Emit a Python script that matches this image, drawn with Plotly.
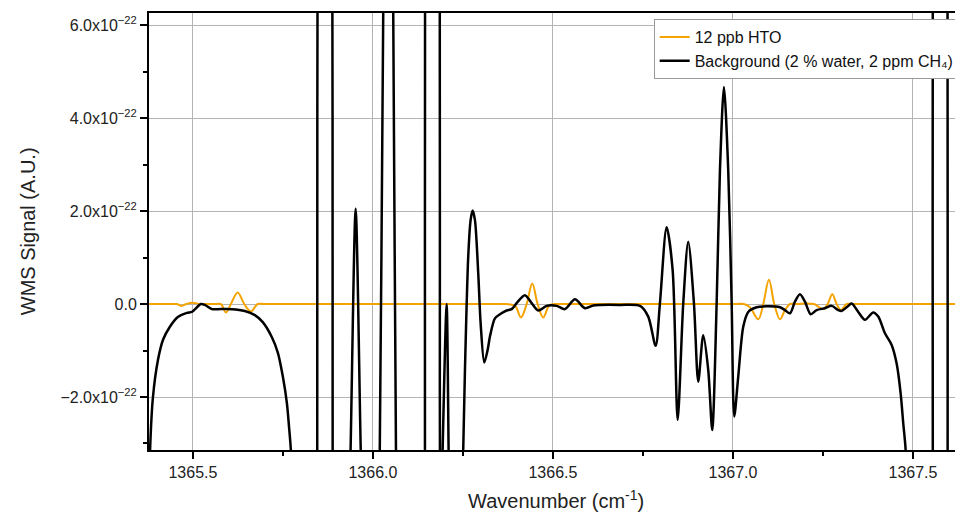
import plotly.graph_objects as go

SCALE = 1e-22  # signal values below are in units of 1e-22

# background (2 % water, 2 ppm CH4) - wavenumber / signal
bg_x = [1365.378, 1365.381, 1365.389, 1365.403, 1365.417, 1365.436, 1365.458, 1365.483,
        1365.497, 1365.506, 1365.522, 1365.533, 1365.553, 1365.569, 1365.608, 1365.644,
        1365.672, 1365.694, 1365.719, 1365.736, 1365.750, 1365.761, 1365.767, 1365.772,
        1365.780, 1365.810,
        1365.8445, 1365.8453, 1365.8462, 1365.866, 1365.8872, 1365.8881, 1365.8889,
        1365.910, 1365.928, 1365.938, 1365.952, 1365.966, 1365.976,
        1365.990, 1366.019, 1366.0286, 1366.042, 1366.0564, 1366.064, 1366.090,
        1366.120, 1366.1436, 1366.1444, 1366.1452, 1366.165, 1366.1852, 1366.186, 1366.1868,
        1366.1936, 1366.2047, 1366.2102, 1366.2135, 1366.232,
        1366.2508, 1366.2556, 1366.2647, 1366.2714, 1366.2769, 1366.2833, 1366.2925,
        1366.2992, 1366.3092, 1366.3186, 1366.325, 1366.3389, 1366.3528, 1366.3714,
        1366.3853, 1366.3992, 1366.4222, 1366.4408, 1366.4592, 1366.4825, 1366.5103,
        1366.5333, 1366.5611, 1366.5889, 1366.6119, 1366.6306, 1366.6861, 1366.7417,
        1366.7647, 1366.7853, 1366.7972, 1366.8158, 1366.8325, 1366.8464, 1366.8619,
        1366.8758, 1366.8917, 1366.9036, 1366.9175, 1366.9314, 1366.9425, 1366.9547,
        1366.9639, 1366.975, 1366.9869, 1366.9964, 1367.0036, 1367.0147, 1367.0286,
        1367.0425, 1367.0658, 1367.0936, 1367.1306, 1367.1444, 1367.1583, 1367.1722,
        1367.1861, 1367.2, 1367.2158, 1367.2325, 1367.2556, 1367.2742, 1367.2925,
        1367.3019, 1367.3175, 1367.3297, 1367.3481, 1367.3667, 1367.3897, 1367.4036,
        1367.4222, 1367.4408, 1367.4547, 1367.4658, 1367.4731, 1367.4797, 1367.486,
        1367.520, 1367.5539, 1367.5547, 1367.5555, 1367.575, 1367.5956, 1367.5964,
        1367.5972, 1367.620, 1367.650]
bg_y = [-4.5, -3.14, -2.00, -1.20, -0.77, -0.49, -0.28, -0.19,
        -0.17, -0.11, 0.00, -0.02, -0.11, -0.11, -0.11, -0.15,
        -0.24, -0.39, -0.71, -1.05, -1.57, -2.13, -2.65, -3.14,
        -5.0, -20,
        -12, -3, 7, 40, 7, -3, -12,
        -25, -6.5, -3.1, 2.05, -3.1, -6.5,
        -22, -3.14, 6.26, 20, 6.26, -3.14, -25,
        -25, -6, 1.5, 9, 40, 9, 1.5, -6,
        -3.14, 0.0, -3.14, -5, -10,
        -3.14, -1.42, 1.02, 1.81, 2.01, 1.81, 0.66,
        -0.42, -1.26, -0.99, -0.70, -0.31, -0.22, -0.14,
        -0.11, 0.02, 0.19, 0.02, -0.14, -0.04, -0.04,
        -0.11, 0.10, -0.09, -0.03, -0.02, -0.02, -0.04,
        -0.27, -0.90, 0.02, 1.65, 0.73, -2.49, 0.01,
        1.34, 0.01, -1.67, -0.67, -1.42, -2.71, 0.01,
        2.88, 4.67, 2.88, 0.02, -2.42, -1.56, -0.49,
        -0.17, -0.07, -0.05, -0.07, -0.13, -0.20, 0.05,
        0.21, 0.05, -0.22, -0.13, -0.09, -0.04, -0.13,
        -0.15, -0.06, 0.01, -0.17, -0.34, -0.18, -0.27,
        -0.63, -0.88, -1.28, -1.92, -2.57, -3.14, -5,
        -25, -6, 1.5, 9, 40, 9, 1.5,
        -6, -25, -25]

# 12 ppb HTO
hto_x = [1365.378, 1365.440, 1365.455, 1365.468, 1365.482, 1365.498, 1365.520, 1365.535,
         1365.565, 1365.578, 1365.5917, 1365.6056, 1365.6242, 1365.6425, 1365.6611,
         1365.680, 1365.700, 1366.350, 1366.370, 1366.395, 1366.411, 1366.427, 1366.4425,
         1366.4575, 1366.4731, 1366.490, 1366.510, 1366.530, 1367.010, 1367.030,
         1367.0472, 1367.0703, 1367.0842, 1367.100, 1367.1147, 1367.1306, 1367.1444,
         1367.1583, 1367.175, 1367.225, 1367.2508, 1367.2631, 1367.2758, 1367.2881,
         1367.300, 1367.3158, 1367.335, 1367.650]
hto_y = [0, 0, 0, -0.04, 0, 0.03, 0, 0,
         0, 0, -0.18, 0, 0.25, 0, -0.16,
         0, 0, 0, 0, -0.04, -0.29, 0, 0.44,
         0, -0.29, -0.03, 0, 0, 0, 0,
         -0.07, -0.33, 0, 0.52, 0, -0.33, -0.13,
         0, 0, 0, -0.11, 0, 0.21, 0,
         -0.13, 0, 0, 0]

y_tick_vals = [-2, 0, 2, 4, 6]
y_tick_text = ["\u22122.0x10<sup>\u221222</sup>", "0.0", "2.0x10<sup>\u221222</sup>",
               "4.0x10<sup>\u221222</sup>", "6.0x10<sup>\u221222</sup>"]
y_minor_vals = [-3, -1, 1, 3, 5]
x_tick_vals = [1365.5, 1366.0, 1366.5, 1367.0, 1367.5]

FONT = "Liberation Sans, Arial, sans-serif"

fig = go.Figure()
fig.add_trace(go.Scatter(
    x=hto_x, y=[v * SCALE for v in hto_y], mode="lines", name="12 ppb HTO",
    line=dict(color="#F5A300", width=2, shape="spline", smoothing=1.0)))
fig.add_trace(go.Scatter(
    x=bg_x, y=[v * SCALE for v in bg_y], mode="lines",
    name="Background (2 % water, 2 ppm CH\u2084)",
    line=dict(color="black", width=2.5, shape="spline", smoothing=0.8)))

axis_common = dict(showline=True, linecolor="black", linewidth=2,
                   ticks="outside", ticklen=7, tickwidth=2, tickcolor="black",
                   showgrid=True, gridcolor="#b4b4b4", gridwidth=1, zeroline=False,
                   tickfont=dict(family=FONT, size=16, color="#222"))

fig.update_xaxes(range=[1365.378, 1367.639], tickvals=x_tick_vals, mirror=True,
                 ticktext=[f"{v:.1f}" for v in x_tick_vals],
                 minor=dict(ticks="outside", ticklen=4, tickwidth=2, tickcolor="black",
                            tickvals=[1365.75, 1366.25, 1366.75, 1367.25], showgrid=False),
                 **axis_common)
fig.update_yaxes(range=[-3.14 * SCALE, 6.26 * SCALE], mirror=False,
                 tickvals=[v * SCALE for v in y_tick_vals], ticktext=y_tick_text,
                 minor=dict(ticks="outside", ticklen=4, tickwidth=2, tickcolor="black",
                            tickvals=[v * SCALE for v in y_minor_vals], showgrid=False),
                 **axis_common)

# page body has an 8px margin, so the figure is 8px smaller and margins shifted
fig.update_layout(
    width=955, height=511,
    margin=dict(l=141, r=0, t=5, b=69),
    plot_bgcolor="white", paper_bgcolor="white",
    font=dict(family=FONT, color="#222"),
    legend=dict(x=0.62, y=0.986, xanchor="left", yanchor="top",
                bgcolor="white", bordercolor="#999", borderwidth=1,
                font=dict(family=FONT, size=16, color="#111"),
                tracegroupgap=0),
    annotations=[
        dict(text="WMS Signal (A.U.)", xref="paper", yref="paper", x=-0.149, y=0.5,
             xanchor="center", yanchor="middle", textangle=-90, showarrow=False,
             font=dict(family=FONT, size=20, color="#222")),
        dict(text="Wavenumber (cm<sup>-1</sup>)", xref="paper", yref="paper", x=0.5, y=-0.114,
             xanchor="center", yanchor="middle", showarrow=False,
             font=dict(family=FONT, size=20, color="#222")),
    ],
)

fig.write_html("out.html")
